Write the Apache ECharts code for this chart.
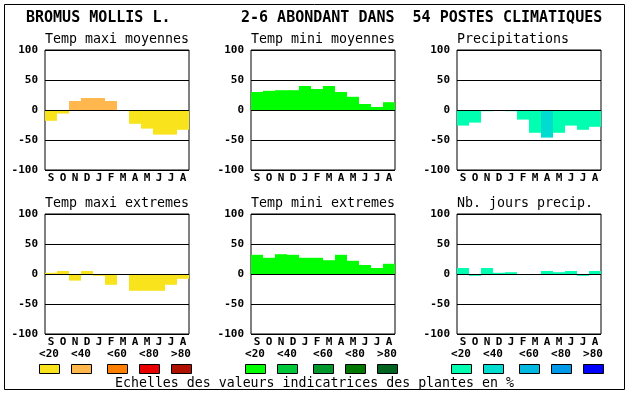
<!DOCTYPE html>
<html><head><meta charset="utf-8">
<script src="https://cdn.jsdelivr.net/npm/echarts@6/dist/echarts.min.js"></script>
<style>html,body{margin:0;padding:0;background:#fff}#c{width:630px;height:394px}</style>
</head><body><div id="c"></div><script>
// ---- data ----
const months = ['S','O','N','D','J','F','M','A','M','J','J','A'];
const yMin = -100, yMax = 100, yInterval = 50;
const classLabels = ['<20','<40','<60','<80','>80'];
const mainTitleLeft = 'BROMUS MOLLIS L.';
const mainTitleRight = '2-6 ABONDANT DANS  54 POSTES CLIMATIQUES';
const footerText = 'Echelles des valeurs indicatrices des plantes en %';
const panelTitles = ['Temp maxi moyennes','Temp mini moyennes','Precipitations',
                     'Temp maxi extremes','Temp mini extremes','Nb. jours precip.'];

const tempMaxiMoy      = [-18, -6, 15, 20, 20, 15, 0, -23, -31, -41, -41, -33];
const tempMaxiMoyClass = [  0,  0,  1,  1,  1,  1, 0,   0,   0,   0,   0,   0];
const tempMiniMoy      = [ 30, 32, 33, 33, 40, 35, 40, 30, 22, 10, 5, 13];
const tempMiniMoyClass = [  0,  0,  0,  0,  0,  0,  0,  0,  0,  0, 0,  0];
const precip           = [-26, -21, -2, 0, -2, -16, -38, -46, -38, -26, -33, -28];
const precipClass      = [  0,   0,  0, 0,  0,   0,   0,   1,   0,   0,   0,   0];
const tempMaxiExt      = [  2,  5, -11, 5, -3, -18, 0, -28, -28, -28, -18, -8];
const tempMaxiExtClass = [  0,  0,   0, 0,  0,   0, 0,   0,   0,   0,   0,  0];
const tempMiniExt      = [ 32, 27, 33, 32, 27, 27, 23, 32, 22, 15, 10, 17];
const tempMiniExtClass = [  0,  0,  0,  0,  0,  0,  0,  0,  0,  0,  0,  0];
const nbJours          = [ 10, -3, 10, 2, 3, 0, 0, 5, 3, 5, -3, 5];
const nbJoursClass     = [  0,  0,  0, 0, 0, 0, 0, 0, 0, 0,  0, 0];

// ---- palettes ----
const warmPal  = ['#f8e31c','#ffb74e','#ff8000','#e80000','#b01000'];
const greenPal = ['#00ff00','#00c83a','#00982c','#007800','#006420'];
const bluePal  = ['#00ffb0','#00dcd0','#00b8e0','#0098e8','#0000ff'];

const panels = [
  {values: tempMaxiMoy, cls: tempMaxiMoyClass, pal: warmPal},
  {values: tempMiniMoy, cls: tempMiniMoyClass, pal: greenPal},
  {values: precip,      cls: precipClass,      pal: bluePal},
  {values: tempMaxiExt, cls: tempMaxiExtClass, pal: warmPal},
  {values: tempMiniExt, cls: tempMiniExtClass, pal: greenPal},
  {values: nbJours,     cls: nbJoursClass,     pal: bluePal}
];

const MONO = '"DejaVu Sans Mono", "Liberation Mono", monospace';
const lefts = [45, 251, 457], tops = [50, 214], W = 144, H = 120;

const grids = [], xAxes = [], yAxes = [], series = [], titles = [], graphics = [];
panels.forEach((p, i) => {
  const col = i % 3, row = Math.floor(i / 3);
  grids.push({left: lefts[col], top: tops[row], width: W, height: H,
              show: true, borderColor: '#000', borderWidth: 1, backgroundColor: '#fff'});
  xAxes.push({type: 'category', gridIndex: i, data: months, position: 'bottom',
              axisLine: {show: false, onZero: false}, axisTick: {show: false},
              axisLabel: {color: '#000', fontFamily: MONO, fontWeight: 'bold', fontSize: 11, margin: 3, interval: 0}});
  yAxes.push({type: 'value', gridIndex: i, min: yMin, max: yMax, interval: yInterval,
              axisLine: {show: false}, axisTick: {show: false},
              splitLine: {show: true, lineStyle: {color: '#000', width: 1}},
              axisLabel: {color: '#000', fontFamily: MONO, fontWeight: 'bold', fontSize: 11, margin: 7}});
  series.push({type: 'bar', xAxisIndex: i, yAxisIndex: i, barWidth: '100%', barGap: '0%',
               animation: false, silent: true,
               data: p.values.map((v, k) => ({value: v, itemStyle: {color: p.pal[p.cls[k]]}})),
               markLine: {silent: true, symbol: ['none','none'], label: {show: false},
                          lineStyle: {color: '#000', width: 1, type: 'solid'},
                          data: [{yAxis: 0}], animation: false}});
  titles.push({text: panelTitles[i], left: lefts[col], top: row === 0 ? 33 : 197, padding: 0,
               textStyle: {fontFamily: MONO, fontSize: 13.3, fontWeight: 'normal', color: '#000'}});
  // class legend under bottom row
  if (row === 1) {
    const offs = [4, 36, 72, 104, 136];
    offs.forEach((o, k) => {
      const cx = lefts[col] + o;
      graphics.push({type: 'text', x: cx, y: 354, silent: true,
        style: {text: classLabels[k], font: 'bold 11px ' + MONO, fill: '#000', align: 'center', verticalAlign: 'middle'}});
      graphics.push({type: 'rect', silent: true,
        shape: {x: cx - 10 + 0.5, y: 364.5, width: 20, height: 9},
        style: {fill: p.pal[k], stroke: '#000', lineWidth: 1}});
    });
  }
});
titles.push({text: mainTitleLeft, left: 26, top: 11, padding: 0,
             textStyle: {fontFamily: MONO, fontSize: 15, fontWeight: 'bold', color: '#000'}});
titles.push({text: mainTitleRight, left: 241, top: 11, padding: 0,
             textStyle: {fontFamily: MONO, fontSize: 15, fontWeight: 'bold', color: '#000'}});
titles.push({text: footerText, left: 115, top: 377, padding: 0,
             textStyle: {fontFamily: MONO, fontSize: 13.25, fontWeight: 'normal', color: '#000'}});
graphics.push({type: 'rect', silent: true, z: -1,
  shape: {x: 4.5, y: 4.5, width: 620, height: 385},
  style: {fill: 'none', stroke: '#000', lineWidth: 1}});

const chart = echarts.init(document.getElementById('c'), null, {renderer: 'canvas'});
chart.setOption({
  backgroundColor: '#fff',
  animation: false,
  title: titles,
  grid: grids, xAxis: xAxes, yAxis: yAxes, series: series,
  graphic: graphics
});
</script></body></html>
